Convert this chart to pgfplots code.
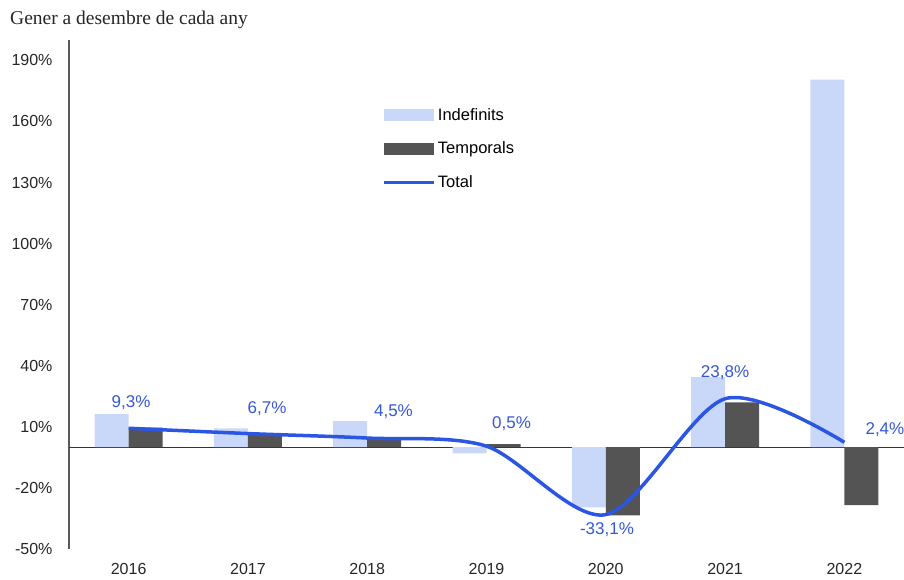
\documentclass[border=0pt]{standalone}
\usepackage{fontspec}
\setmainfont{Liberation Sans}
\newfontfamily\timesfont{Liberation Serif}
\usepackage{pgfplots}
\pgfplotsset{compat=1.18}
\definecolor{lightbar}{HTML}{C9D7F8}
\definecolor{darkbar}{HTML}{545454}
\definecolor{totline}{HTML}{2B56E4}
\definecolor{lbl}{HTML}{3557D8}
\begin{document}
\begin{tikzpicture}
\begin{axis}[
  scale only axis, width=835pt, height=509pt,
  xmin=-0.5, xmax=6.5, ymin=-50, ymax=200,
  axis lines*=left,
  x axis line style={draw=none},
  y axis line style={draw=black!65, line width=1.3pt},
  xtick={0,...,6}, xticklabels={2016,2017,2018,2019,2020,2021,2022},
  ytick={-50,-20,10,40,70,100,130,160,190},
  yticklabels={-50\%,-20\%,10\%,40\%,70\%,100\%,130\%,160\%,190\%},
  tick style={draw=none},
  ticklabel style={font=\fontsize{16}{18}\selectfont, text=black!85},
  yticklabel style={xshift=-13pt},
  xticklabel style={yshift=-11pt},
  extra y ticks={0}, extra y tick labels={},
  extra y tick style={grid=major, major grid style={draw=black!80, line width=1pt}},
  legend style={at={(axis cs:2.13,167.5)}, anchor=north west, draw=none, fill=none,
    font=\fontsize{16.5}{18}\selectfont, row sep=16pt, inner sep=0pt,
    cells={anchor=west}},
  clip=false,
]
\addplot[ybar, bar width=34pt, bar shift=-17pt, fill=lightbar, draw=none,
  legend image code/.code={\fill[lightbar] (0pt,-6pt) rectangle (50pt,6pt);}]
  coordinates {(0,16.2) (1,9.3) (2,12.8) (3,-3.0) (4,-29.5) (5,34.4) (6,180.5)};
\addlegendentry{Indefinits}
\addplot[ybar, bar width=34pt, bar shift=17pt, fill=darkbar, draw=none,
  legend image code/.code={\fill[darkbar] (0pt,-6pt) rectangle (50pt,6pt);}]
  coordinates {(0,9.6) (1,6.9) (2,4.4) (3,1.5) (4,-33.5) (5,22.0) (6,-28.5)};
\addlegendentry{Temporals}
\addplot[smooth, totline, line width=3.5pt, mark=none,
  legend image code/.code={\draw[totline, line width=3pt] (0pt,0pt) -- (50pt,0pt);}]
  coordinates {(0,9.3) (1,6.7) (2,4.5) (3,0.5) (4,-33.1) (5,23.8) (6,2.4)};
\addlegendentry{Total}
\begin{scope}[every node/.style={text=lbl, font=\fontsize{17}{19}\selectfont}]
\node at (axis cs:0.02,22.1) {9,3\%};
\node at (axis cs:1.16,18.7) {6,7\%};
\node at (axis cs:2.22,17.2) {4,5\%};
\node at (axis cs:3.21,11.8) {0,5\%};
\node at (axis cs:4.01,-40.3) {-33,1\%};
\node at (axis cs:5.0,36.8) {23,8\%};
\node at (axis cs:6.34,8.4) {2,4\%};
\end{scope}
\end{axis}
\node[anchor=west, inner sep=0pt, font=\timesfont\fontsize{19.5}{22}\selectfont, text=black!85] at (-59pt,529pt) {Gener a desembre de cada any};
\pgfresetboundingbox
\path (-69pt,-30pt) rectangle (835pt,549pt);
\end{tikzpicture}
\end{document}
